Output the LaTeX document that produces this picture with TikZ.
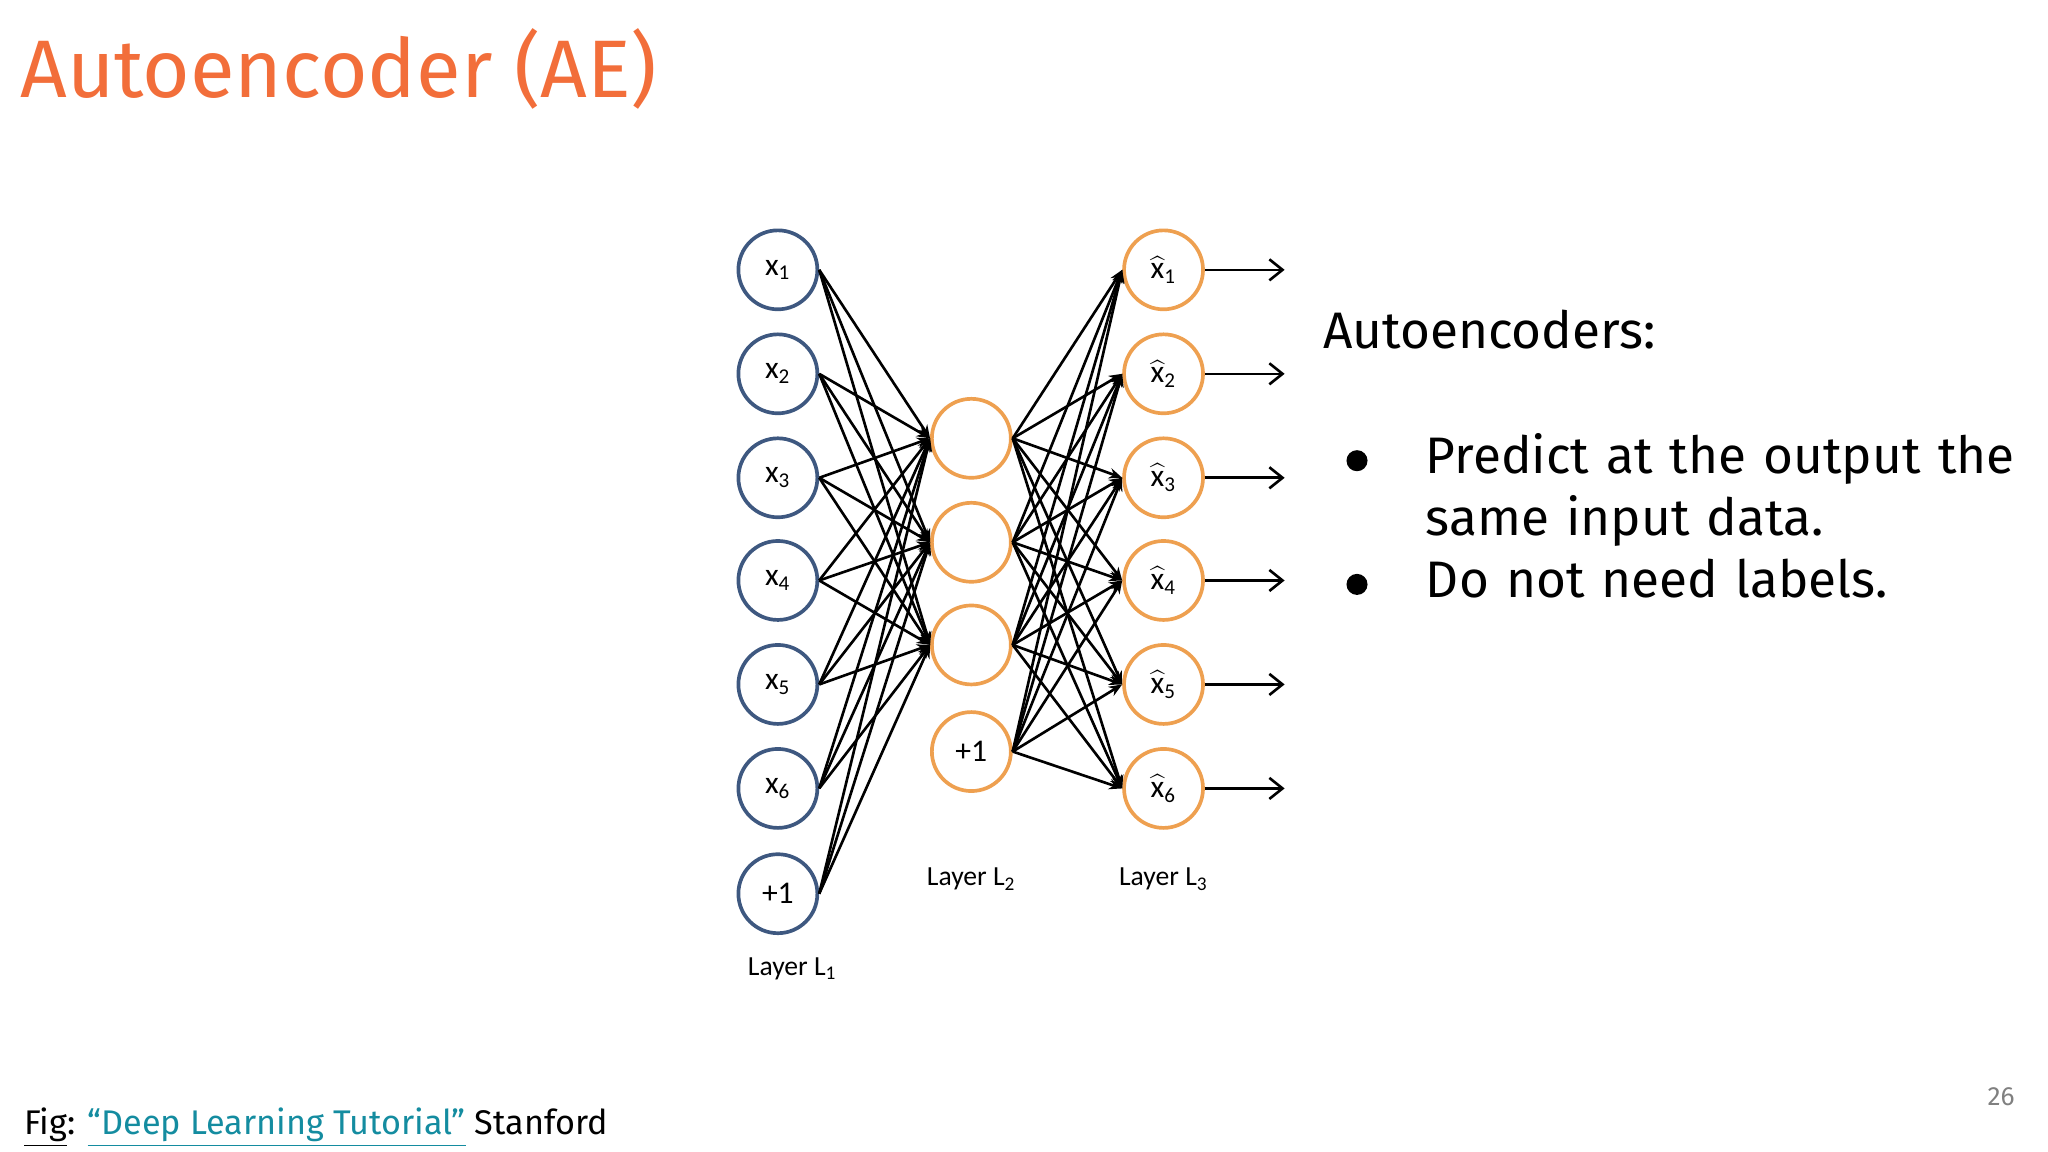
\documentclass[tikz,border=0pt]{standalone}
\usepackage{fontspec}
\setmainfont{Fira Sans}
\newfontfamily\diag{Carlito}
\usetikzlibrary{arrows.meta}
\definecolor{ttl}{RGB}{242,110,58}
\definecolor{bl}{RGB}{62,88,128}
\definecolor{og}{RGB}{238,160,80}
\definecolor{lnk}{RGB}{20,140,160}
\newcommand{\hx}[1]{$\widehat{\mbox{x}}$\textsubscript{#1}}
\tikzset{
 inn/.style={circle,draw=bl,line width=1.4pt,minimum size=30pt,inner sep=0pt,font=\diag\fontsize{12}{14}\selectfont},
 hid/.style={circle,draw=og,line width=1.4pt,minimum size=30pt,inner sep=0pt,font=\diag\fontsize{12}{14}\selectfont},
 cn/.style={-{Stealth[length=5pt,width=4pt]},line width=1pt},
 lay/.style={font=\diag\fontsize{10.5}{12}\selectfont},
}
\begin{document}
\begin{tikzpicture}[x=0.5pt,y=-0.5pt]
\useasboundingbox (0,0) rectangle (1556,875);
\node[anchor=base west,text=ttl,font=\fontsize{31}{36}\selectfont,inner sep=0] (title) at (15,74) {Autoencoder (AE)};
\foreach \i/\y in {1/205,2/284,3/363,4/441,5/520,6/599}{
 \node[inn] (a\i) at (591,\y) {x\textsubscript{\i}};
 \node[hid] (c\i) at (884,\y) {\hx{\i}};
 \coordinate (o\i) at (976,\y);
 \draw[line width=1pt,-{Straight Barb[length=5pt,width=8pt]}] (c\i) -- (o\i);
}
\node[inn] (a7) at (591,679) {+1};
\foreach \i/\y in {1/333,2/412,3/490}{\node[hid] (b\i) at (738,\y) {};}
\node[hid] (b4) at (738,571) {+1};
\foreach \i in {1,...,7}{\foreach \j in {1,2,3}{\draw[cn] (a\i.east) -- (b\j.west);}}
\foreach \i in {1,...,4}{\foreach \j in {1,...,6}{\draw[cn] (b\i.east) -- (c\j.west);}}
\node[lay] (l1) at (602,736) {Layer L\textsubscript{1}};
\node[lay] (l2) at (738,668) {Layer L\textsubscript{2}};
\node[lay] (l3) at (884,668) {Layer L\textsubscript{3}};
\node[anchor=base west,font=\fontsize{19.5}{24}\selectfont,inner sep=0] (h) at (1005,265) {Autoencoders:};
\node[anchor=base west,font=\fontsize{19.5}{23.5}\selectfont,inner sep=0,align=left,text width=240pt] (b) at (1083,360) {Predict at the output the\\same input data.\\Do not need labels.};
\node[circle,fill=black,inner sep=0,minimum size=8pt] (d1) at (1031,350) {};
\node[circle,fill=black,inner sep=0,minimum size=8pt] (d2) at (1031,444) {};
\node[anchor=base west,font=\fontsize{13}{15}\selectfont,inner sep=0] (f) at (18,862) {\underline{Fig}: \textcolor{lnk}{\underline{“Deep Learning Tutorial”}} Stanford};
\node[anchor=base east,font=\fontsize{10}{12}\selectfont,text=gray,inner sep=0] (p) at (1531,840) {26};
\end{tikzpicture}
\end{document}
